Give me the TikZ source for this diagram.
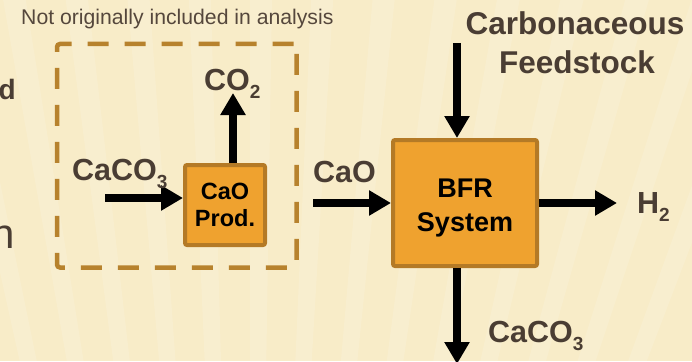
\documentclass[tikz,border=0pt]{standalone}
\usepackage{fontspec}
\setmainfont{Liberation Sans}
\usetikzlibrary{arrows.meta}
\definecolor{bg}{HTML}{F8ECC8}
\definecolor{txt}{HTML}{4A3D33}
\definecolor{txtlight}{HTML}{55473C}
\definecolor{boxfill}{HTML}{EFA22F}
\definecolor{boxline}{HTML}{B47A26}
\definecolor{dashcol}{HTML}{B7822D}
\newcommand\sbs[1]{\raisebox{-0.28em}{\fontsize{19}{19}\selectfont #1}}
\begin{document}
\begin{tikzpicture}[x=1pt,y=-1pt,
  flow/.style={line width=7.5pt,draw=black,-{Triangle[width=24pt,length=22pt]}},
  lbl/.style={text=txt,font=\fontsize{30.5}{34}\selectfont\bfseries,inner sep=0pt},
  procbox/.style={draw=boxline,fill=boxfill,line width=4pt,rounded corners=2pt,align=center,text=black,inner sep=0pt},
  groupbox/.style={draw=dashcol,line width=4.5pt,dash pattern=on 21pt off 16pt,rounded corners=3pt,inner sep=0pt}
]
\useasboundingbox (0,0) rectangle (692,361);
\clip (0,0) rectangle (692,361);
\fill[bg] (0,0) rectangle (692,361);
\foreach \a in {250,252.5,...,290}
  \fill[white,opacity=0.13] (250,1400) -- +(\a:1700) -- +(\a+0.9:1700) -- cycle;

% cut-off slide text at left edge
\node[text=txt,font=\fontsize{28}{30}\selectfont\bfseries,inner sep=0pt,anchor=base east] (tail1) at (16,99) {d};
\node[text=txt,font=\fontsize{42}{44}\selectfont,inner sep=0pt,anchor=base east] (tail2) at (15,248) {n};

% note
\node[text=txtlight,font=\fontsize{21.2}{23}\selectfont,inner sep=0pt,anchor=base west] (note) at (21,25) {Not originally included in analysis};

% dashed group
\node[groupbox,minimum width=239.5pt,minimum height=223.5pt] (grp) at (176.75,155.75) {};

% boxes
\node[procbox,minimum width=80pt,minimum height=80pt,font=\fontsize{23.5}{27}\selectfont\bfseries] (prod) at (225,205) {CaO\\Prod.};
\node[procbox,minimum width=144pt,minimum height=126pt,font=\fontsize{27}{34}\selectfont\bfseries] (bfr) at (465,203) {\rule{0pt}{28pt}BFR\\System};

% coordinates for free ends
\coordinate (cacoin) at (105,198);
\coordinate (co2tip) at (233,93);
\coordinate (caoin) at (313,203);
\coordinate (h2tip) at (617,203);
\coordinate (feedin) at (457,43);
\coordinate (downtip) at (457,364);

% arrows
\draw[flow] (cacoin) -- (cacoin -| prod.west);
\draw[flow] (prod.north -| co2tip) -- (co2tip);
\draw[flow] (caoin) -- (bfr.west);
\draw[flow] (bfr.east) -- (h2tip);
\draw[flow] (feedin) -- (feedin |- bfr.north);
\draw[flow] (downtip |- bfr.south) -- (downtip);

% labels
\node[lbl,anchor=base west] (lco2) at (204,90) {CO\sbs{2}};
\node[lbl,anchor=base west] (lcaco) at (72,180) {CaCO\sbs{3}};
\node[lbl,anchor=base west] (lcao) at (313,182) {CaO};
\node[lbl,anchor=base west] (lh2) at (637,213) {H\sbs{2}};
\node[lbl,anchor=base west] (lcaco2) at (488,342) {CaCO\sbs{3}};
\node[lbl,anchor=base,font=\fontsize{31.5}{34}\selectfont\bfseries] (lfeed1) at (575,35) {Carbonaceous};
\node[lbl,anchor=base,font=\fontsize{31.5}{34}\selectfont\bfseries] (lfeed2) at (577,73) {Feedstock};
\end{tikzpicture}
\end{document}
